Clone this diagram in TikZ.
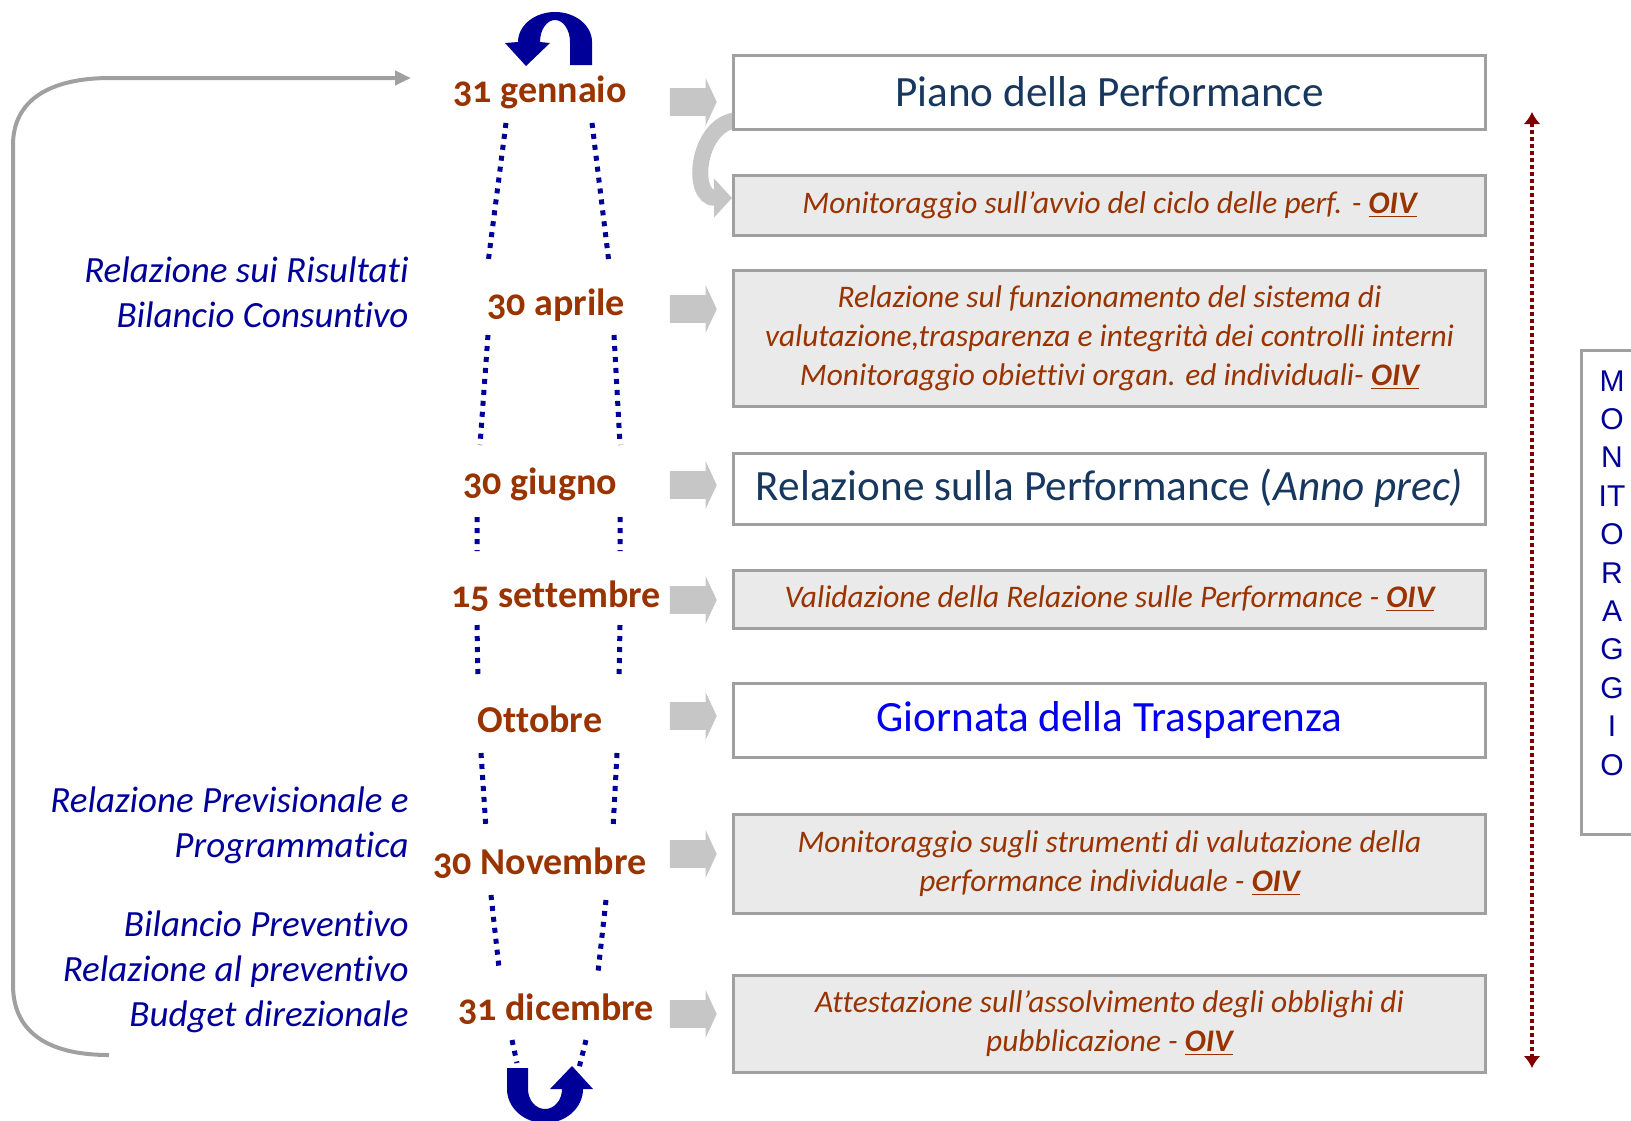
\documentclass[tikz,border=0pt]{standalone}
\usepackage{fontspec}
\setmainfont{Carlito}[Ligatures={TeX,NoCommon}]
\newfontfamily\datefont[Numbers=OldStyle,Ligatures={TeX,NoCommon}]{Carlito}
\newfontfamily\monfont{Liberation Sans}
\usepackage{xcolor}
\usepackage{tikz}
\usetikzlibrary{arrows.meta,shapes.arrows}

\definecolor{datebrown}{RGB}{153,51,0}
\definecolor{leftblue}{RGB}{0,0,153}
\definecolor{navy}{RGB}{23,55,94}
\definecolor{trasblue}{RGB}{0,0,238}
\definecolor{boxgray}{RGB}{160,160,160}
\definecolor{boxfill}{RGB}{234,234,234}
\definecolor{monred}{RGB}{128,0,0}
\newcommand{\oiv}{\underline{\textbf{OIV}}}

\begin{document}
\begin{tikzpicture}[x=0.5pt,y=-0.5pt,
  date/.style={font=\datefont\bfseries\fontsize{19}{22}\selectfont,text=datebrown},
  stepbox/.style={draw=boxgray,line width=1.5pt,minimum width=376pt,align=center,inner sep=0pt},
  plainbox/.style={stepbox,fill=white,font=\fontsize{21.6}{26}\selectfont,text=navy},
  oivbox/.style={stepbox,fill=boxfill,font=\itshape\fontsize{15.7}{19.4}\selectfont,text=datebrown},
  docnote/.style={anchor=east,align=right,inner sep=0pt,text=leftblue,font=\itshape\fontsize{18.5}{22.5}\selectfont},
  blockarr/.style={single arrow,fill=gray!45,draw=none,minimum width=23.5pt,minimum height=23.5pt,
    single arrow head extend=5pt,single arrow tip angle=130,inner xsep=0pt,inner ysep=6.75pt},
  dots/.style={leftblue,line width=2.5pt,dash pattern=on 2.5pt off 3pt}]
\useasboundingbox (0,0) rectangle (1631,1120);
\draw[line width=2pt,boxgray,-{Triangle[width=7pt,length=8pt]}](109,1055)..controls(45,1055)and(13,1030)..(13,985)
  --(13,145)..controls(13,100)and(50,78)..(110,78)--(411,78);
\node[docnote] (ris) at (409,292) {Relazione sui Risultati\\Bilancio Consuntivo};
\node[docnote] (prev) at (409,825) {Relazione Previsionale e\\Programmatica};
\node[docnote] (bil) at (409,972) {Bilancio Preventivo\\Relazione al preventivo\\Budget direzionale};
\node[date] (gen) at (540,92) {31 gennaio};
\node[date] (apr) at (556,305) {30 aprile};
\node[date] (giu) at (540,484) {30 giugno};
\node[date] (set) at (556,596) {15 settembre};
\node[date] (ott) at (540,719) {Ottobre};
\node[date] (nov) at (540,863) {30 Novembre};
\node[date] (dic) at (556,1009) {31 dicembre};
\draw[dots](506,123)--(488,263) (592,123)--(609,263)
  (488,335)--(480,445) (614,335)--(620,445)
  (477,517)--(477,551) (620,517)--(620,551)
  (477,625)--(478,679) (620,625)--(619,679)
  (481,753)--(486,829) (617,753)--(613,829)
  (491,895)--(499,968) (606,900)--(598,972)
  (512,1040)--(517,1063) (586,1040)--(579,1068);
\fill[leftblue](592,65)--(592,42)arc[start angle=0,end angle=180,x radius=18.5pt,y radius=15pt]
  --(505,43)--(526,66)--(550,43)--(540,42)arc[start angle=180,end angle=0,x radius=7.5pt,y radius=11pt]--(570,65)--cycle;
\fill[leftblue](507,1068)--(507,1089)arc[start angle=180,end angle=360,x radius=19pt,y radius=17pt]
  --(593,1089)--(572,1066)--(550,1089)--(562,1089)arc[start angle=0,end angle=-180,x radius=8.5pt,y radius=10pt]--(528,1068)--cycle;
\foreach \y [count=\i] in {102,309,485,600,716,854,1014}
  \node[blockarr] (a\i) at (690,\y) {};
\coordinate (bendstart) at (740,120);
\draw[line width=8pt,gray!45,-{Triangle[width=19pt,length=9pt]}](bendstart)to[out=180,in=180,looseness=1.4](732,198);
\node[plainbox,minimum height=37pt] (piano) at (1109.5,92) {Piano della Performance};
\node[oivbox,minimum height=30pt] (avvio) at (1109.5,205) {Monitoraggio sull’avvio del ciclo delle perf. - \oiv};
\node[oivbox,minimum height=68pt] (funz) at (1109.5,338) {Relazione sul funzionamento del sistema di\\
  valutazione,trasparenza e integrità dei controlli interni\\Monitoraggio obiettivi organ. ed individuali- \oiv};
\node[plainbox,minimum height=35.5pt] (relaz) at (1109.5,488.5) {Relazione sulla Performance (\textit{Anno prec)}};
\node[oivbox,minimum height=29pt] (valid) at (1109.5,599) {Validazione della Relazione sulle Performance - \oiv};
\node[plainbox,minimum height=37pt,text=trasblue] (giorn) at (1109.5,720) {Giornata della Trasparenza};
\node[oivbox,minimum height=49.5pt] (strum) at (1109.5,863.5) {Monitoraggio sugli strumenti di valutazione della\\
  performance individuale - \oiv};
\node[oivbox,minimum height=48.5pt] (attes) at (1109.5,1023.5) {Attestazione sull’assolvimento degli obblighi di\\
  pubblicazione - \oiv};
\draw[monred,line width=2pt,dash pattern=on 2pt off 1.5pt,{Latex[width=8.5pt,length=6pt]}-{Latex[width=8.5pt,length=6pt]}]
  (1532,112)--(1532,1068);
\node[draw=boxgray,line width=1.5pt,minimum width=31pt,minimum height=242pt] (monbox) at (1612,592) {};
\node[font=\monfont\fontsize{15}{19.2}\selectfont,text=leftblue,align=center] (montxt) at (1612,573)
  {M\\O\\N\\IT\\O\\R\\A\\G\\G\\I\\O};
\end{tikzpicture}
\end{document}
